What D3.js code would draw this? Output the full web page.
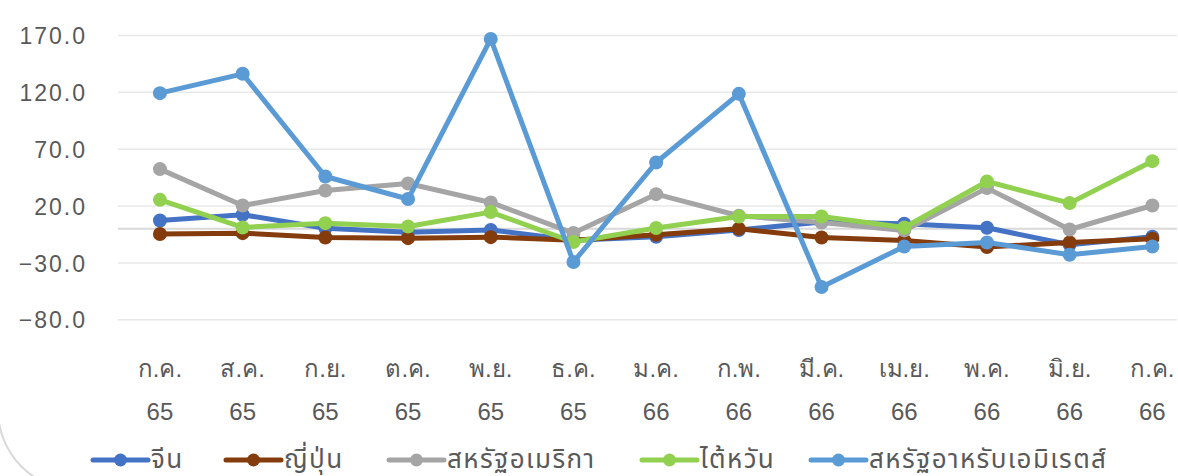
<!DOCTYPE html>
<html><head><meta charset="utf-8">
<script src="https://cdn.jsdelivr.net/npm/d3@7"></script>
<style>
html,body{margin:0;padding:0;background:#fff;}
svg{display:block;font-family:"Noto Sans Thai","Noto Sans",sans-serif;}
</style></head>
<body><svg id="c" width="1178" height="476"></svg>
<script>
const monthLabels = ["ก.ค.","ส.ค.","ก.ย.","ต.ค.","พ.ย.","ธ.ค.","ม.ค.","ก.พ.","มี.ค.","เม.ย.","พ.ค.","มิ.ย.","ก.ค."];
const yearLabels = ["65","65","65","65","65","65","66","66","66","66","66","66","66"];
const seriesNames = ["จีน","ญี่ปุ่น","สหรัฐอเมริกา","ไต้หวัน","สหรัฐอาหรับเอมิเรตส์"];
const china  = [7.3, 12.4, 0.5, -3, -1, -10, -7, -1, 6, 4.4, 1, -14, -7];
const japan  = [-4.6, -3.8, -7.6, -8.2, -7.3, -10, -5.2, 0, -7.6, -10.2, -16, -12, -8.7];
const usa    = [52.5, 20.5, 33.7, 39.9, 23.2, -3.7, 30.5, 11.5, 5.6, -1.4, 35.8, -0.6, 20.5];
const taiwan = [25.5, 1.2, 5, 2.1, 14.7, -11.6, 0.7, 10.9, 10.9, 1.2, 41.6, 22.6, 59.5];
const uae    = [119.3, 136.3, 46, 26.2, 167, -29.2, 58.3, 118.7, -51.2, -15.5, -12, -22.8, -15.5];
const yTicks = [-80, -30, 20, 70, 120, 170];
const colors = ["#4472C4","#843C0C","#A5A5A5","#92D050","#5B9BD5"];

const allSeries = [china, japan, usa, taiwan, uae];
const svg = d3.select("#c");

// rounded container border (partially visible)
svg.append("rect").attr("x",-2).attr("y",-200).attr("width",1300).attr("height",690)
  .attr("rx",80).attr("fill","none").attr("stroke","#d9d9d9").attr("stroke-width",2);

const x = d3.scaleBand().domain(d3.range(monthLabels.length)).range([118.6, 118.6 + 82.7*13]);
const y = d3.scaleLinear().domain([-80, 170]).range([319.8, 35.5]);

// gridlines
svg.append("g").selectAll("line").data(yTicks).join("line")
  .attr("x1",118).attr("x2",1177).attr("y1",d=>y(d)).attr("y2",d=>y(d))
  .attr("stroke","#e8e8e8").attr("stroke-width",1.5);
svg.append("line").attr("x1",118).attr("x2",1177).attr("y1",y(0)).attr("y2",y(0))
  .attr("stroke","#d9d9d9").attr("stroke-width",2);

// y axis
const yAxis = d3.axisLeft(y).tickValues(yTicks).tickFormat(d3.format(".1f")).tickSize(0).tickPadding(0);
const gy = svg.append("g").attr("transform","translate(87,0)").call(yAxis);
gy.select(".domain").remove();
gy.selectAll("text").attr("font-size",23).attr("fill","#595959").attr("dy","0.35em")
  .attr("letter-spacing","2px").attr("font-family","'Liberation Sans',sans-serif");

// x axis labels
const xAxis = d3.axisBottom(x).tickFormat(i=>monthLabels[i]).tickSize(0);
const gx = svg.append("g").attr("transform","translate(0,0)").call(xAxis);
gx.select(".domain").remove();
gx.selectAll(".tick text").each(function(i){
  const t = d3.select(this);
  t.text(null).attr("y",0).attr("dy",null).attr("font-size",24).attr("fill","#595959");
  t.append("tspan").attr("x",0).attr("y",377).text(monthLabels[i]);
  t.append("tspan").attr("x",0).attr("y",420).text(yearLabels[i]);
});

const cx = i => x(i) + x.bandwidth()/2;
const line = d3.line().x((d,i)=>cx(i)).y(d=>y(d));

allSeries.forEach((s,k)=>{
  const g = svg.append("g");
  g.append("path").datum(s).attr("d",line).attr("fill","none")
    .attr("stroke",colors[k]).attr("stroke-width",5).attr("stroke-linejoin","round");
  g.selectAll("circle").data(s).join("circle")
    .attr("cx",(d,i)=>cx(i)).attr("cy",d=>y(d)).attr("r",7).attr("fill",colors[k]);
});

// legend
const legX = [93, 226, 389, 642, 811];
const legY = 460;
seriesNames.forEach((n,k)=>{
  const g = svg.append("g").attr("transform",`translate(${legX[k]},${legY})`);
  g.append("line").attr("x1",0).attr("x2",55).attr("y1",0).attr("y2",0)
    .attr("stroke",colors[k]).attr("stroke-width",5).attr("stroke-linecap","round");
  g.append("circle").attr("cx",27.5).attr("cy",0).attr("r",6.5).attr("fill",colors[k]);
  g.append("text").attr("x",58).attr("y",0).attr("dy","0.32em").attr("font-size",26)
    .attr("letter-spacing","1.4px").attr("fill","#595959").text(n);
});
</script></body></html>
